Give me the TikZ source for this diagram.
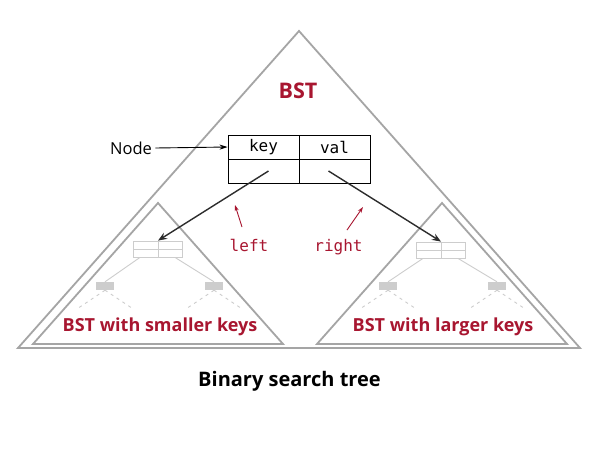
\documentclass[tikz,border=0pt]{standalone}
\usepackage{fontspec}
\setmainfont{Open Sans}
\newfontfamily\monof{DejaVu Sans Mono}
\usetikzlibrary{arrows.meta}
\definecolor{bstred}{RGB}{168,22,48}
\definecolor{trigray}{RGB}{165,165,165}
\definecolor{faint}{RGB}{205,205,205}
\definecolor{ptrgray}{RGB}{45,45,45}
\tikzset{
  tri/.style={draw=trigray, line width=1.8pt, line join=miter},
  cell/.style={draw=black, line width=0.9pt, minimum width=71pt, minimum height=24pt, inner sep=0pt, font=\monof\fontsize{16}{18}\selectfont},
  mini/.style={draw=faint, line width=0.8pt, minimum width=49pt, minimum height=16pt, inner sep=0pt},
  kid/.style={fill=faint, minimum width=18pt, minimum height=8pt, inner sep=0pt},
  faintline/.style={draw=faint, line width=0.9pt},
  gdash/.style={draw=faint, line width=0.9pt, dash pattern=on 3pt off 4pt},
  ptr/.style={draw=ptrgray, line width=1.4pt, -{Stealth[length=9pt,width=7pt]}},
  redarr/.style={draw=bstred, line width=0.9pt, -{Stealth[length=6pt,width=4pt]}},
  redlab/.style={text=bstred, font=\bfseries\fontsize{18}{20}\selectfont},
  monored/.style={text=bstred, font=\monof\fontsize{16}{18}\selectfont},
}
\begin{document}
\begin{tikzpicture}[x=1pt,y=-1pt]
\useasboundingbox (0,0) rectangle (602,448);
\fill[white] (0,0) rectangle (602,448);
% triangles
\draw[tri] (299,31) -- (580,348) -- (18,348) -- cycle;
\draw[tri] (158,203) -- (283,344) -- (33,344) -- cycle;
\draw[tri] (442,203) -- (567,344) -- (317,344) -- cycle;
% labels
\node[redlab, font=\bfseries\fontsize{21.5}{23}\selectfont] (bst) at (298,91) {BST};
\node[redlab] (lsub) at (160,327) {BST with smaller keys};
\node[redlab] (rsub) at (443,327) {BST with larger keys};
\node[font=\bfseries\fontsize{20}{22}\selectfont] (title) at (289.5,381) {Binary search tree};
% node box
\node[cell] (keyc) at (263.5,147) {key};
\node[cell] (valc) at (334.5,147) {val};
\node[cell] (lptr) at (263.5,171) {};
\node[cell] (rptr) at (334.5,171) {};
\node[font=\fontsize{16.5}{19}\selectfont] (nodelab) at (131,148) {Node};
\draw[black, line width=0.9pt, -{Stealth[length=8pt,width=5pt]}] (nodelab.east) -- (keyc.west);
% left subtree
\node[mini] (lroot) at (158,249) {};
\draw[faintline] (lroot.north) -- (lroot.south) (lroot.west) -- (lroot.east);
\node[kid] (ll) at (105,286) {};
\node[kid] (lr) at (214,286) {};
\draw[faintline] ([xshift=-18pt]lroot.south) -- (ll.north);
\draw[faintline] ([xshift=17pt]lroot.south) -- (lr.north);
\draw[gdash] (ll.south) -- ++(-27,18);
\draw[gdash] (ll.south) -- ++(27,18);
\draw[gdash] (lr.south) -- ++(-27,18);
\draw[gdash] (lr.south) -- ++(27,18);
% right subtree
\node[mini] (rroot) at (441,250) {};
\draw[faintline] (rroot.north) -- (rroot.south) (rroot.west) -- (rroot.east);
\node[kid] (rl) at (388,286) {};
\node[kid] (rr) at (497,286) {};
\draw[faintline] ([xshift=-18pt]rroot.south) -- (rl.north);
\draw[faintline] ([xshift=17pt]rroot.south) -- (rr.north);
\draw[gdash] (rl.south) -- ++(-27,18);
\draw[gdash] (rl.south) -- ++(27,18);
\draw[gdash] (rr.south) -- ++(-27,18);
\draw[gdash] (rr.south) -- ++(27,18);
% pointers
\draw[ptr] ([xshift=5pt]lptr.center) -- (lroot.north);
\draw[ptr] ([xshift=-6pt]rptr.center) -- (rroot.north);
% left / right labels
\node[monored] (leftlab) at (249,245) {left};
\node[monored] (rightlab) at (338.5,247) {right};
\coordinate (lt) at (242,227);
\coordinate (lh) at (235,205);
\coordinate (rt) at (347,230);
\coordinate (rh) at (363,207);
\draw[redarr] (lt) -- (lh);
\draw[redarr] (rt) -- (rh);
\end{tikzpicture}
\end{document}
